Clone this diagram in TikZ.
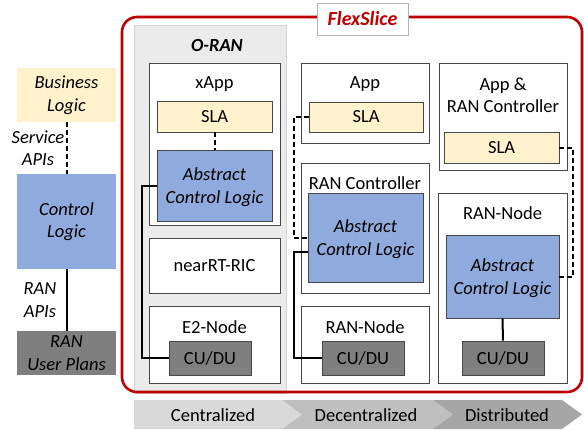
\documentclass[tikz,border=0pt]{standalone}
\usepackage{fontspec}
\setmainfont{Carlito}
\usetikzlibrary{calc}
\definecolor{slay}{HTML}{FFF2CC}
\definecolor{aclb}{HTML}{8FAADC}
\definecolor{cudug}{HTML}{7F7F7F}
\definecolor{flexred}{HTML}{C00000}
\definecolor{oranbg}{HTML}{EBEBEB}
\definecolor{oranbd}{HTML}{D4D4D4}
\definecolor{chA}{HTML}{D9D9D9}
\definecolor{chB}{HTML}{BFBFBF}
\definecolor{chC}{HTML}{A6A6A6}
\tikzset{
  txt/.style={font=\fontsize{18.5}{22.5}\selectfont, inner sep=0pt, align=center},
  box/.style={txt, draw=black!72, line width=0.9pt, fill=white},
  slabox/.style={box, fill=slay},
  aclbox/.style={box, fill=aclb, font=\fontsize{18.5}{22.5}\selectfont\itshape},
  cudubox/.style={box, fill=cudug},
  leftbox/.style={txt, font=\fontsize{18.5}{22.5}\selectfont\itshape},
  conn/.style={draw=black, line width=2pt},
  dconn/.style={draw=black, line width=2pt, dash pattern=on 5pt off 3pt}
}
\begin{document}
\begin{tikzpicture}[x=1pt,y=-1pt]
\useasboundingbox (0,0) rectangle (584,429);
\fill[white] (0,0) rectangle (584,429);

% left column
\node[leftbox, fill=slay, minimum width=99pt, minimum height=54pt] (biz) at (66.5,95) {Business\\Logic};
\node[leftbox, fill=aclb, minimum width=99pt, minimum height=95pt] (ctrl) at (66.5,221.5) {Control\\Logic};
\node[leftbox, fill=cudug, minimum width=99pt, minimum height=44pt] (rup) at (66.5,353) {RAN\\User Plans};
\draw[dconn] (biz.south) -- (ctrl.north);
\draw[conn] (ctrl.south) -- (rup.north);
\node[leftbox] (sapi) at (38,148) {Service\\APIs};
\node[leftbox] (rapi) at (40,300) {RAN\\APIs};

% O-RAN panel and FlexSlice frame
\node[draw=oranbd, fill=oranbg, line width=0.8pt, minimum width=152pt, minimum height=368pt, inner sep=0pt] (oran) at (210,209) {};
\node[txt, font=\fontsize{18.5}{22}\selectfont\bfseries\itshape] (orant) at (217,45) {O-RAN};
\node[draw=flexred, line width=2.6pt, rounded corners=15pt, minimum width=460pt, minimum height=375pt, inner sep=0pt] (frame) at (352,204.5) {};
\node[txt, draw=black!30, line width=0.8pt, fill=white, minimum width=91pt, minimum height=32pt, text=flexred, font=\fontsize{20}{24}\selectfont\bfseries\itshape] (flex) at (362.5,19) {FlexSlice};

% Centralized column
\node[box, minimum width=131pt, minimum height=162pt] (xapp) at (214.5,144) {};
\node[txt] (xappt) at (214.5,84) {xApp};
\node[slabox, minimum width=115pt, minimum height=31pt] (sla1) at (214.5,116.5) {SLA};
\node[aclbox, minimum width=115pt, minimum height=71pt] (acl1) at (214.5,185.5) {};
\node[txt, font=\fontsize{18.5}{22.5}\selectfont\itshape] (acl1t) at (214.5,187) {Abstract\\Control Logic};
\node[box, minimum width=131pt, minimum height=55pt] (ric) at (214.5,265.5) {nearRT-RIC};
\node[box, minimum width=131pt, minimum height=77pt] (e2) at (214.5,344.5) {};
\node[txt] (e2t) at (214.5,327) {E2-Node};
\node[cudubox, minimum width=82pt, minimum height=34pt] (cu1) at (210,358) {CU/DU};
\draw[dconn] (sla1.south) -- (acl1.north);
\draw[conn] (acl1.west) -- ++(-15,0) |- (cu1.west);

% Decentralized column
\node[box, minimum width=128pt, minimum height=80pt] (app) at (365,103) {};
\node[txt] (appt) at (365,84) {App};
\node[slabox, minimum width=114pt, minimum height=30pt] (sla2) at (366,117) {SLA};
\node[box, minimum width=128pt, minimum height=130pt] (rc) at (365,228) {};
\node[txt] (rct) at (365,183) {RAN Controller};
\node[aclbox, minimum width=115pt, minimum height=89pt] (acl2) at (365.5,237.5) {};
\node[txt, font=\fontsize{18.5}{22.5}\selectfont\itshape] (acl2t) at (365.5,239) {Abstract\\Control Logic};
\node[box, minimum width=128pt, minimum height=77pt] (rn2) at (365,344.5) {};
\node[txt] (rn2t) at (365,327) {RAN-Node};
\node[cudubox, minimum width=82pt, minimum height=34pt] (cu2) at (363,358) {CU/DU};
\draw[dconn] (sla2.west) -- ++(-15,0) |- (acl2.west);
\draw[conn] ($(acl2.west)+(0,14.5)$) -- ++(-14,0) |- (cu2.west);

% Distributed column
\node[box, minimum width=128pt, minimum height=107pt] (arc) at (503,116.5) {};
\node[txt] (arct) at (503,95) {App \&\\RAN Controller};
\node[slabox, minimum width=115pt, minimum height=31pt] (sla3) at (501.5,147.5) {SLA};
\node[box, minimum width=129pt, minimum height=190pt] (rn3) at (502.5,288) {};
\node[txt] (rn3t) at (502.5,213) {RAN-Node};
\node[aclbox, minimum width=113pt, minimum height=83pt] (acl3) at (502.5,276.5) {};
\node[txt, font=\fontsize{18.5}{22.5}\selectfont\itshape] (acl3t) at (502.5,278) {Abstract\\Control Logic};
\node[cudubox, minimum width=82pt, minimum height=34pt] (cu3) at (503,358) {CU/DU};
\draw[dconn] (sla3.east) -- ++(14,0) |- (acl3.east);
\draw[conn] (acl3.south) -- (cu3.north);

% bottom chevrons
\fill[chA] (134,400) -- (282,400) -- (302,414.5) -- (282,429) -- (134,429) -- cycle;
\fill[chB] (282,400) -- (433,400) -- (453,414.5) -- (433,429) -- (282,429) -- (302,414.5) -- cycle;
\fill[chC] (433,400) -- (562,400) -- (582,414.5) -- (562,429) -- (433,429) -- (453,414.5) -- cycle;
\node[txt] (cen) at (213,415.5) {Centralized};
\node[txt] (dec) at (366,415.5) {Decentralized};
\node[txt] (dis) at (507,415.5) {Distributed};
\end{tikzpicture}
\end{document}
